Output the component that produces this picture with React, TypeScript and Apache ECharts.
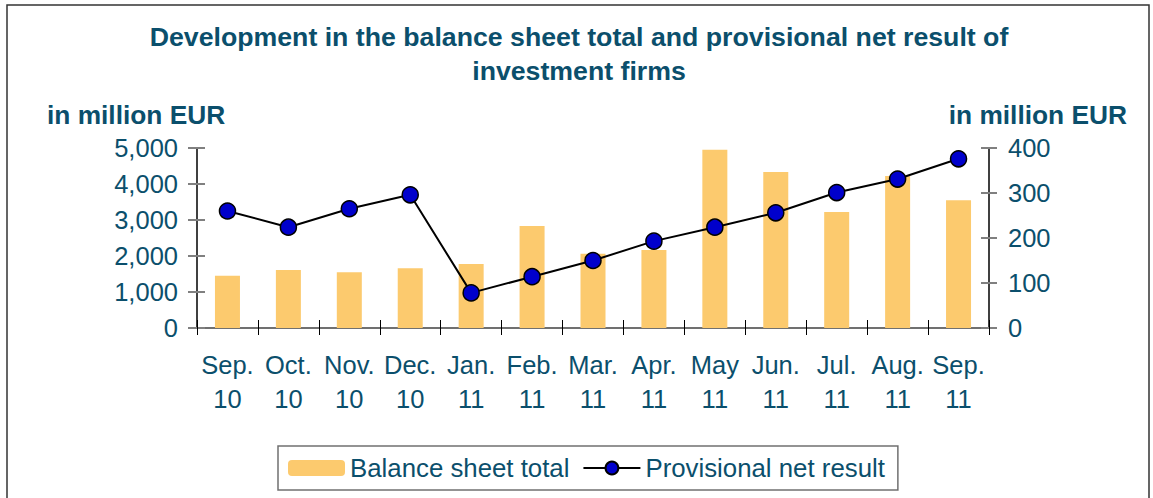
import React, { useEffect, useRef } from "react";
import * as echarts from "echarts";

const categories = ["Sep. 10", "Oct. 10", "Nov. 10", "Dec. 10", "Jan. 11", "Feb. 11", "Mar. 11", "Apr. 11", "May 11", "Jun. 11", "Jul. 11", "Aug. 11", "Sep. 11"];
const balanceSheetTotal = [1450, 1610, 1550, 1660, 1780, 2830, 2060, 2170, 4950, 4330, 3220, 4220, 3550];
const provisionalNetResult = [260, 224, 265, 296, 78, 114, 150, 193, 224, 256, 301, 331, 376];
const leftTicks = { min: 0, max: 5000, interval: 1000 };
const rightTicks = { min: 0, max: 400, interval: 100 };

const TEAL = "#0B4F6C";
const FONT = "'Liberation Sans', Arial, sans-serif";

export default function App() {
  const ref = useRef<HTMLDivElement>(null);
  useEffect(() => {
    if (!ref.current) return;
    const chart = echarts.init(ref.current, undefined, { renderer: "svg" });
    const grid = { left: 197, right: 164, top: 148, bottom: 170 };
    const hiddenY = (pos: string, t: any) => ({
      type: "value", position: pos, min: t.min, max: t.max, interval: t.interval,
      axisLine: { show: false }, axisLabel: { show: false }, splitLine: { show: false },
      axisTick: { show: true, inside: true, length: 8, lineStyle: { color: "#808080", width: 2 } },
    });
    chart.setOption({
      animation: false,
      backgroundColor: "#ffffff",
      textStyle: { fontFamily: FONT },
      grid,
      graphic: [
        { type: "rect", shape: { x: 7, y: 5, width: 1142, height: 520 }, style: { fill: "none", stroke: "#333", lineWidth: 1.5 }, silent: true },
        { type: "text", x: 579, y: 37, style: { text: "Development in the balance sheet total and provisional net result of", font: `bold 26.7px ${FONT}`, fill: TEAL, textAlign: "center", textVerticalAlign: "middle" } },
        { type: "text", x: 579, y: 71, style: { text: "investment firms", font: `bold 26.7px ${FONT}`, fill: TEAL, textAlign: "center", textVerticalAlign: "middle" } },
        { type: "text", x: 47, y: 115, style: { text: "in million EUR", font: `bold 26.3px ${FONT}`, fill: TEAL, textAlign: "left", textVerticalAlign: "middle" } },
        { type: "text", x: 1127, y: 115, style: { text: "in million EUR", font: `bold 26.3px ${FONT}`, fill: TEAL, textAlign: "right", textVerticalAlign: "middle" } },
      ],
      legend: {
        left: 278, top: 446,
        padding: [9, 13, 9, 10],
        itemGap: 13,
        itemWidth: 57, itemHeight: 16,
        borderColor: "#707070", borderWidth: 1.5,
        textStyle: { fontSize: 25.8, color: TEAL, fontFamily: FONT },
        data: ["Balance sheet total", "Provisional net result"],
      },
      xAxis: [
        {
          type: "category", data: categories, position: "bottom", boundaryGap: true,
          axisLine: { show: true, lineStyle: { color: "#707070", width: 2 } },
          axisTick: { show: true, inside: false, length: 7, alignWithLabel: false, lineStyle: { color: "#000", width: 1 } },
          axisLabel: { interval: 0, margin: 20, fontSize: 25.5, lineHeight: 34, color: TEAL, fontFamily: FONT, formatter: (v: string) => v.replace(" ", "\n") },
          splitLine: { show: false },
        },
        {
          type: "category", data: categories, position: "bottom", boundaryGap: true,
          axisLine: { show: false }, axisLabel: { show: false }, splitLine: { show: false },
          axisTick: { show: true, inside: true, length: 8, lineStyle: { color: "#000", width: 1 } },
        },
      ],
      yAxis: [
        {
          type: "value", position: "left", min: leftTicks.min, max: leftTicks.max, interval: leftTicks.interval,
          axisLine: { show: true, lineStyle: { color: "#000", width: 1.5 } },
          axisTick: { show: true, inside: false, length: 9, lineStyle: { color: "#808080", width: 2 } },
          axisLabel: { margin: 19, fontSize: 25.5, color: TEAL, fontFamily: FONT, formatter: (v: number) => v.toLocaleString("en-US") },
          splitLine: { show: false },
        },
        {
          type: "value", position: "right", min: rightTicks.min, max: rightTicks.max, interval: rightTicks.interval,
          axisLine: { show: true, lineStyle: { color: "#000", width: 1.5 } },
          axisTick: { show: true, inside: false, length: 8, lineStyle: { color: "#808080", width: 2 } },
          axisLabel: { margin: 19, fontSize: 25.5, color: TEAL, fontFamily: FONT },
          splitLine: { show: false },
        },
        hiddenY("left", leftTicks),
        hiddenY("right", rightTicks),
      ],
      series: [
        {
          name: "Balance sheet total", type: "bar", data: balanceSheetTotal,
          xAxisIndex: 0, yAxisIndex: 0, barWidth: 25,
          itemStyle: { color: "#FCCA6E" },
        },
        {
          name: "Provisional net result", type: "line", data: provisionalNetResult,
          xAxisIndex: 0, yAxisIndex: 1,
          symbol: "circle", symbolSize: 16,
          lineStyle: { color: "#000", width: 2 },
          itemStyle: { color: "#0000CC", borderColor: "#000", borderWidth: 1.5 },
          z: 5,
        },
      ],
    });
    return () => chart.dispose();
  }, []);
  return <div ref={ref} style={{ position: "fixed", left: 0, top: 0, width: 1153, height: 498 }} />;
}
